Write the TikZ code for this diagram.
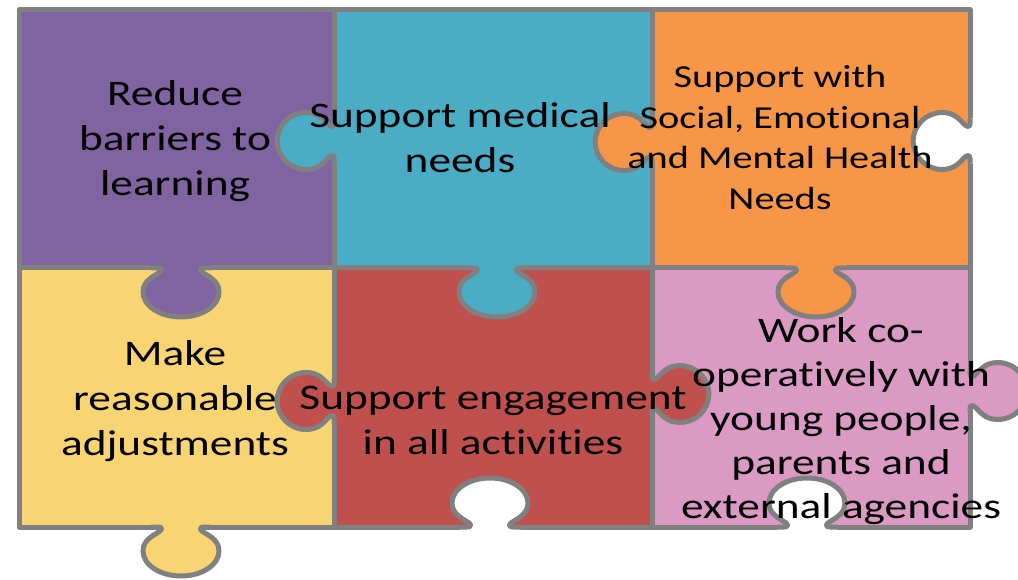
\documentclass[tikz,border=0pt]{standalone}
\usepackage{fontspec}
\setmainfont{Carlito}[Ligatures=NoCommon]
\usepackage{graphicx}
\definecolor{cPurple}{HTML}{8064A2}
\definecolor{cBlue}{HTML}{4BACC6}
\definecolor{cOrange}{HTML}{F79646}
\definecolor{cYellow}{HTML}{F8D472}
\definecolor{cRed}{HTML}{C0504D}
\definecolor{cPink}{HTML}{DA9AC4}
\definecolor{cEdge}{HTML}{808080}
\tikzset{
  pzline/.style={draw=cEdge, line width=5pt, line join=round},
  lbl/.style={text=black, inner sep=0pt, align=center},
  sidetab/.style={xscale=0.75, yscale=1.16},
  downtab/.style={xscale=1, yscale=1},
}
% #1 name, #2 x, #3 y, #4 rotation, #5 fill colour, #6 scaling style
\newcommand\ptab[6]{%
\begin{scope}[shift={(#2,#3)}, rotate=#4, #6]
  \fill[#5] (-30,0) -- (-23,0) .. controls (-19,0) and (-18.5,2) .. (-21,4)
     .. controls (-26,8) and (-38,12) .. (-38,24)
     arc[start angle=180, end angle=0, x radius=38, y radius=25]
     .. controls (38,12) and (26,8) .. (21,4)
     .. controls (18.5,2) and (19,0) .. (23,0) -- (30,0) -- (30,-4) -- (-30,-4) -- cycle;
  \draw[pzline] (-30,0) -- (-23,0) .. controls (-19,0) and (-18.5,2) .. (-21,4)
     .. controls (-26,8) and (-38,12) .. (-38,24)
     arc[start angle=180, end angle=0, x radius=38, y radius=25]
     .. controls (38,12) and (26,8) .. (21,4)
     .. controls (18.5,2) and (19,0) .. (23,0) -- (30,0);
  \coordinate (#1) at (0,0);
\end{scope}}
\newcommand\stx[3]{\scalebox{1.26}[1]{\fontsize{#1}{#2}\selectfont\begin{tabular}{@{}c@{}}#3\end{tabular}}}
\begin{document}
\begin{tikzpicture}[x=1pt,y=1pt,yscale=-1]
\useasboundingbox (0,0) rectangle (1018,580);
\clip (0,0) rectangle (1018,580);
\fill[white] (0,0) rectangle (1018,580);
% cells
\fill[cPurple] (19,10) rectangle (334,268);
\fill[cBlue] (334,10) rectangle (652,268);
\fill[cOrange] (652,10) rectangle (970,268);
\fill[cYellow] (19,268) rectangle (334,527);
\fill[cRed] (334,268) rectangle (652,527);
\fill[cPink] (652,268) rectangle (970,527);
% grid
\draw[pzline] (19,10) rectangle (970,527);
\draw[pzline] (334,10) -- (334,527) (652,10) -- (652,527) (19,268) -- (970,268);
% texts lying under neighbouring tabs
\node[lbl] (tPurple) at (175,141.7) {\stx{36}{45}{Reduce\\barriers to\\learning}};
\node[lbl] (tYellow) at (175,401.7) {\stx{36}{45}{Make\\reasonable\\adjustments}};
% tabs and blanks
\ptab{tA}{334}{141}{90}{cBlue}{sidetab}
\ptab{tB}{652}{142}{90}{cOrange}{sidetab}
\ptab{tC}{970}{141}{90}{white}{sidetab}
\ptab{tD}{334}{401}{90}{cRed}{sidetab}
\ptab{tE}{652}{394}{-90}{cRed}{sidetab}
\ptab{tF}{970}{391}{-90}{cPink}{sidetab}
\ptab{tG}{181}{268}{0}{cPurple}{downtab}
\ptab{tH}{497}{268}{0}{cBlue}{downtab}
\ptab{tI}{816}{268}{0}{cOrange}{downtab}
\ptab{tJ}{181}{527}{0}{cYellow}{downtab}
\ptab{tK}{490}{527}{180}{white}{downtab}
\ptab{tL}{807}{527}{180}{white}{downtab}
% texts
\node[lbl] (tBlue) at (460,141.5) {\stx{36}{45}{Support medical\\needs}};
\node[lbl] (tOrange) at (780,140.4) {\stx{32}{40.5}{Support with\\Social, Emotional\\and Mental Health\\Needs}};
\node[lbl] (tRed) at (493,422.5) {\stx{36}{45}{Support engagement\\in all activities}};
\node[lbl] (tPink) at (841,422) {\stx{36}{44}{Work co-\\operatively with\\young people,\\parents and\\external agencies}};
\end{tikzpicture}
\end{document}
